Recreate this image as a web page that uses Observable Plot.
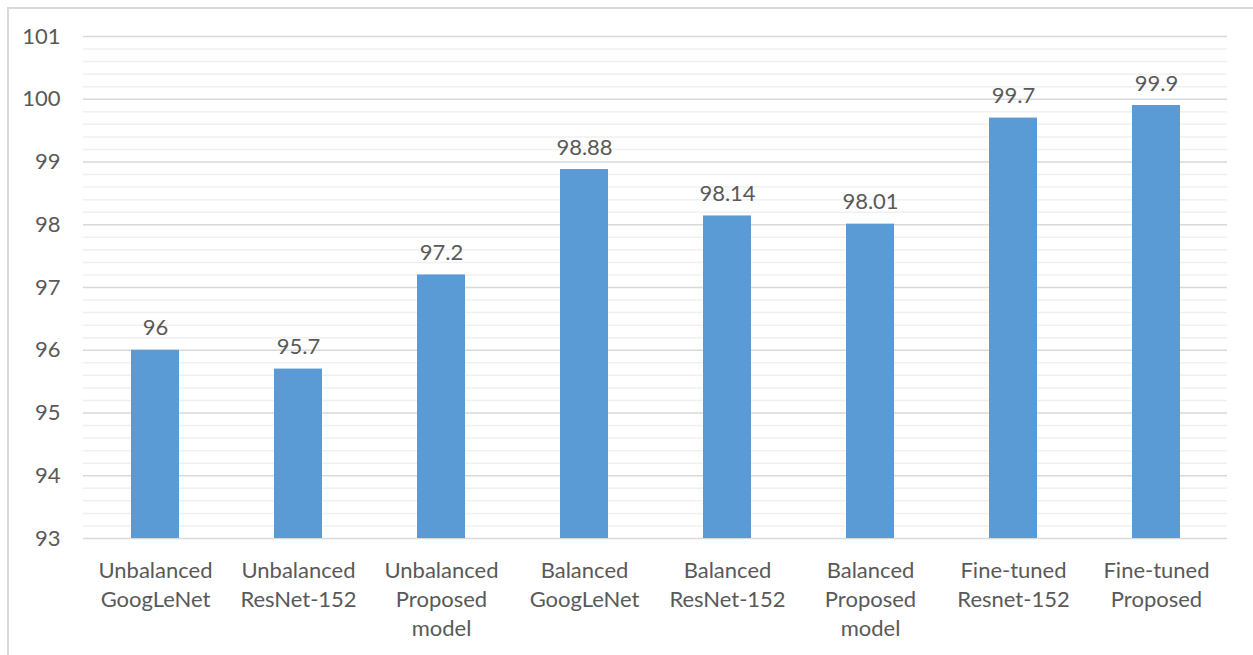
<!DOCTYPE html>
<html>
<head>
<meta charset="utf-8">
<script src="https://cdn.jsdelivr.net/npm/d3@7"></script>
<script src="https://cdn.jsdelivr.net/npm/@observablehq/plot@0.6"></script>
<style>
  html, body { margin: 0; padding: 0; background: #fff; }
  #wrap { position: relative; width: 1253px; height: 655px; overflow: hidden; }
  #frame { position: absolute; left: 7px; top: 7px; width: 1260px; height: 660px;
           border-left: 2px solid #d9d9d9; border-top: 2px solid #d9d9d9; box-sizing: border-box; }
  #chart { position: absolute; left: 0; top: 0; }
</style>
</head>
<body>
<div id="wrap"><div id="chart"></div><div id="frame"></div></div>
<script>
const categories = [
  "Unbalanced\nGoogLeNet",
  "Unbalanced\nResNet-152",
  "Unbalanced\nProposed\nmodel",
  "Balanced\nGoogLeNet",
  "Balanced\nResNet-152",
  "Balanced\nProposed\nmodel",
  "Fine-tuned\nResnet-152",
  "Fine-tuned\nProposed"
];
const accuracy = [96, 95.7, 97.2, 98.88, 98.14, 98.01, 99.7, 99.9];
const yTicks = [93, 94, 95, 96, 97, 98, 99, 100, 101];

const data = categories.map((c, i) => ({category: c, value: accuracy[i]}));
// light minor gridlines every 0.2 between the integer ticks
const minorTicks = d3.range(93, 101, 0.2).map(v => +v.toFixed(1)).filter(v => !Number.isInteger(v));

const textColor = "#595959";
const font = "Lato, 'Open Sans', sans-serif";
const fs = 22;

const chart = Plot.plot({
  width: 1253,
  height: 655,
  marginLeft: 83,
  marginRight: 26,
  marginTop: 36,
  marginBottom: 117,
  style: {fontFamily: font, fontSize: fs + "px", color: textColor, background: "transparent"},
  x: {domain: categories, paddingInner: 0.665, paddingOuter: 0.3325, label: null},
  y: {domain: [93, 101], label: null},
  marks: [
    Plot.ruleY(minorTicks, {stroke: "#f0f0f0", strokeWidth: 1.5}),
    Plot.ruleY(yTicks, {stroke: "#d9d9d9", strokeWidth: 1.5}),
    Plot.axisY({ticks: yTicks, tickSize: 0, tickPadding: 23, fontSize: fs, fill: textColor, label: null}),
    Plot.axisX({tickSize: 0, tickPadding: 19, fontSize: fs, lineHeight: 1.32, fill: textColor, label: null}),
    Plot.barY(data, {x: "category", y1: 93, y2: "value", fill: "#5b9bd5"}),
    Plot.text(data, {x: "category", y: "value", text: d => String(d.value), lineAnchor: "bottom", dy: -15, fontSize: fs, fill: textColor})
  ]
});
document.getElementById("chart").appendChild(chart);
</script>
</body>
</html>
